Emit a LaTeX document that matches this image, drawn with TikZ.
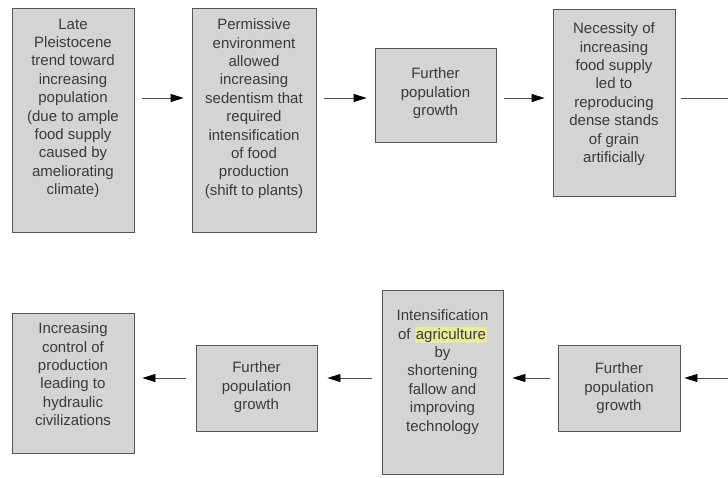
\documentclass[tikz,border=0pt]{standalone}
\usepackage{fontspec}
\setmainfont{Liberation Sans}
\usetikzlibrary{positioning,arrows.meta}
\definecolor{boxgray}{HTML}{D4D4D4}
\definecolor{edgegray}{HTML}{555555}
\definecolor{textgray}{HTML}{3A3A3A}
\definecolor{hilite}{HTML}{EAEA9C}

\begin{document}
\begin{tikzpicture}[x=1pt,y=-1pt,
  stage/.style={draw=edgegray, line width=0.8pt, fill=boxgray, inner sep=0pt},
  stagetext/.style={inner sep=0pt, align=center, text=textgray, font=\fontsize{15}{18.4}\selectfont},
  flow/.style={-{Triangle[length=13pt,width=8pt,black]}, line width=0.8pt, draw=black!70, shorten <=8pt, shorten >=8pt}]
\useasboundingbox (0,0) rectangle (728,477);
%\draw [help lines] (0,0) grid (728,477);

\coordinate (toprow) at (0,98);
\coordinate (botrow) at (0,378);
\coordinate (rightedge) at (728,0);

% top row, left to right
\node [stage, minimum width=122pt, minimum height=224pt] (late) at (73,120) {};
\node [stagetext, below=11pt of late.north] (latetext) {Late\\Pleistocene\\trend toward\\increasing\\population\\(due to ample\\food supply\\caused by\\ameliorating\\climate)};

\node [stage, minimum width=124pt, minimum height=224pt] (permissive) at (254,120) {};
\node [stagetext, below=11pt of permissive.north] (permissivetext) {Permissive\\environment\\allowed\\increasing\\sedentism that\\required\\intensification\\of food\\production\\(shift to plants)};

\node [stage, minimum width=121pt, minimum height=94pt] (growtha) at (435.5,95) {};
\node [stagetext, below=20pt of growtha.north] (growthatext) {Further\\population\\growth};

\node [stage, minimum width=122pt, minimum height=187pt] (necessity) at (614,102.5) {};
\node [stagetext, below=14pt of necessity.north] (necessitytext) {Necessity of\\increasing\\food supply\\led to\\reproducing\\dense stands\\of grain\\artificially};

% bottom row, right to left
\node [stage, minimum width=122pt, minimum height=86pt] (growthb) at (619,388) {};
\node [stagetext, below=18pt of growthb.north] (growthbtext) {Further\\population\\growth};

\node [stage, minimum width=121pt, minimum height=184pt] (intensify) at (442.5,382) {};
\node [stagetext, below=20pt of intensify.north] (intensifytext) {Intensification\\of {\setlength{\fboxsep}{1pt}\colorbox{hilite}{agriculture}}\\by\\shortening\\fallow and\\improving\\technology};

\node [stage, minimum width=121pt, minimum height=86pt] (growthc) at (256.5,388) {};
\node [stagetext, below=17pt of growthc.north] (growthctext) {Further\\population\\growth};

\node [stage, minimum width=122pt, minimum height=140pt] (control) at (73,383) {};
\node [stagetext, below=10pt of control.north] (controltext) {Increasing\\control of\\production\\leading to\\hydraulic\\civilizations};

\draw [flow] (late.east |- toprow) -- (permissive.west |- toprow);
\draw [flow] (permissive.east |- toprow) -- (growtha.west |- toprow);
\draw [flow] (growtha.east |- toprow) -- (necessity.west |- toprow);
\draw [line width=0.8pt, draw=black!70, shorten <=6pt] (necessity.east |- toprow) -- (rightedge |- toprow);

\draw [flow, shorten <=0pt, shorten >=4pt] (rightedge |- botrow) -- (growthb.east |- botrow);
\draw [flow, shorten >=9pt] (growthb.west |- botrow) -- (intensify.east |- botrow);
\draw [flow, shorten <=10pt, shorten >=10pt] (intensify.west |- botrow) -- (growthc.east |- botrow);
\draw [flow, shorten <=10pt] (growthc.west |- botrow) -- (control.east |- botrow);

\end{tikzpicture}
\end{document}
